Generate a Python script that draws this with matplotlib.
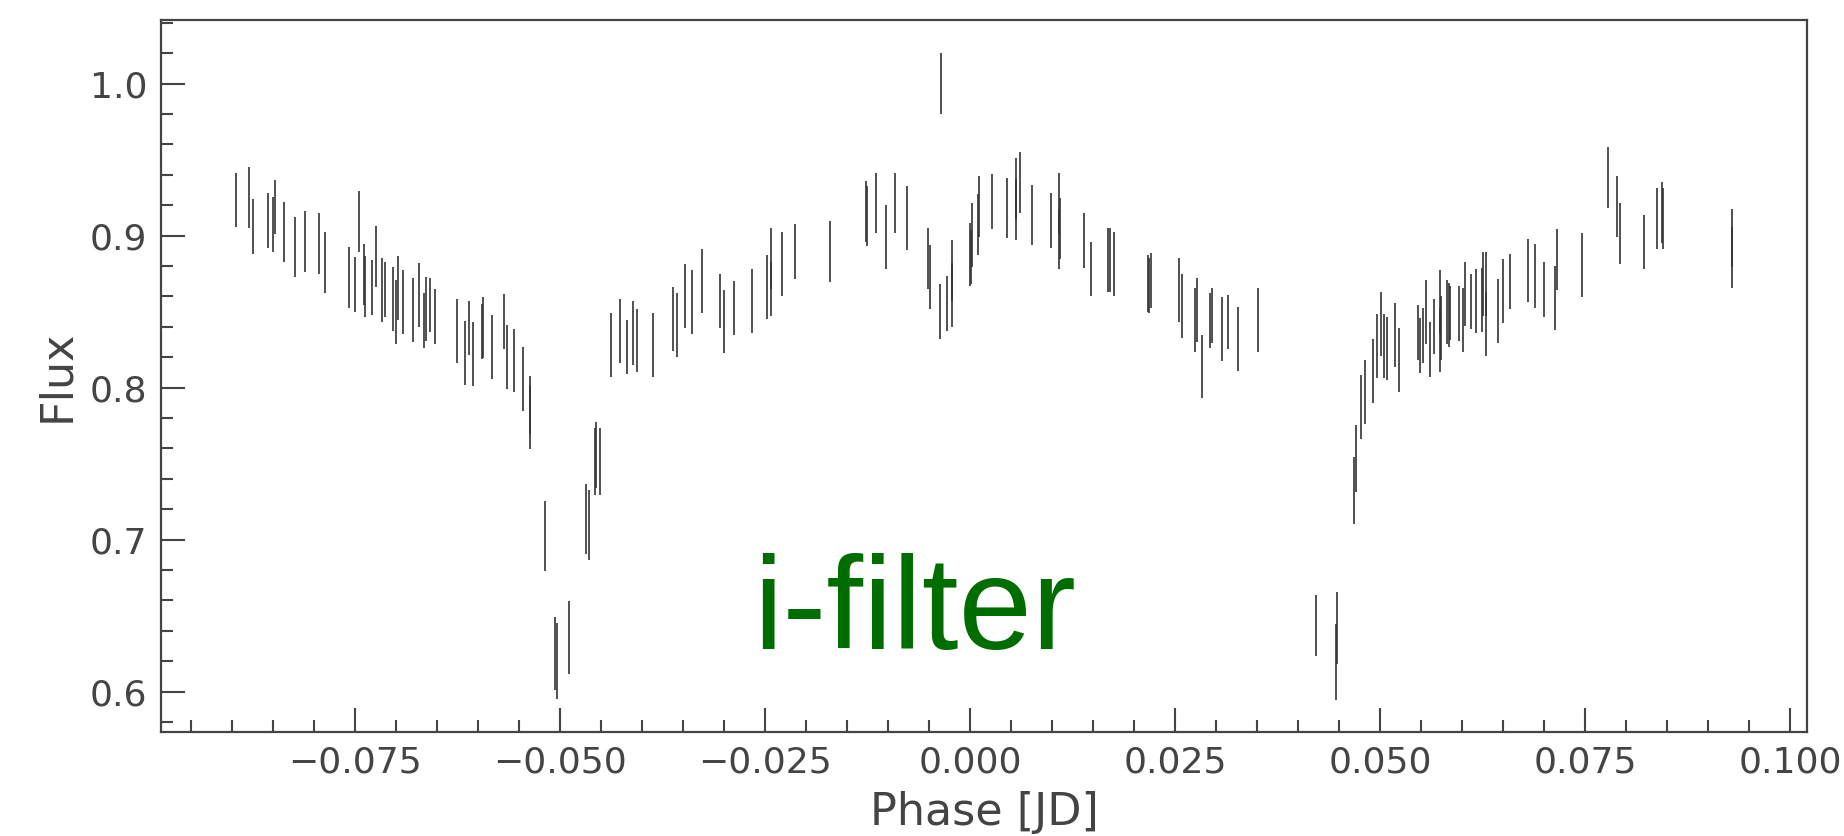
import matplotlib
matplotlib.use('Agg')
import matplotlib.pyplot as plt
from matplotlib.ticker import MultipleLocator


# Phase-folded i-filter light curve
phase = [
    -0.08954, -0.08791, -0.08746, -0.08560, -0.08502, -0.08478, -0.08365, -0.08238,
    -0.08112, -0.07945, -0.07868, -0.07572, -0.07506, -0.07454, -0.07393, -0.07377,
    -0.07291, -0.07246, -0.07177, -0.07140, -0.07035, -0.07006, -0.06982, -0.06917,
    -0.06799, -0.06726, -0.06665, -0.06637, -0.06591, -0.06530, -0.06262, -0.06157,
    -0.06112, -0.06067, -0.05957, -0.05945, -0.05832, -0.05682, -0.05649, -0.05560,
    -0.05450, -0.05372, -0.05372, -0.05189, -0.05063, -0.05035, -0.04889, -0.04685,
    -0.04645, -0.04579, -0.04567, -0.04515, -0.04380, -0.04274, -0.04189, -0.04112,
    -0.04067, -0.03865, -0.03628, -0.03576, -0.03482, -0.03389, -0.03274, -0.03048,
    -0.03006, -0.02877, -0.02665, -0.02474, -0.02433, -0.02425, -0.02291, -0.02137,
    -0.01706, -0.01274, -0.01259, -0.01149, -0.01030, -0.00921, -0.00767, -0.00518,
    -0.00494, -0.00368, -0.00360, -0.00283, -0.00218, -0.00218, -0.00006, 0.00006,
    0.00026, 0.00091, 0.00104, 0.00266, 0.00449, 0.00555, 0.00555, 0.00604,
    0.00754, 0.00982, 0.01079, 0.01079, 0.01091, 0.01384, 0.01477, 0.01677,
    0.01701, 0.01754, 0.02165, 0.02180, 0.02209, 0.02546, 0.02587, 0.02741,
    0.02762, 0.02830, 0.02924, 0.02945, 0.03071, 0.03144, 0.03262, 0.03506,
    0.04217, 0.04470, 0.04457, 0.04680, 0.04701, 0.04770, 0.04818, 0.04916,
    0.04957, 0.05013, 0.05050, 0.05083, 0.05180, 0.05229, 0.05465, 0.05489,
    0.05522, 0.05559, 0.05611, 0.05652, 0.05726, 0.05730, 0.05745, 0.05818,
    0.05834, 0.05855, 0.05957, 0.06006, 0.06034, 0.06107, 0.06165, 0.06245,
    0.06254, 0.06290, 0.06294, 0.06433, 0.06498, 0.06579, 0.06802, 0.06884,
    0.06994, 0.07132, 0.07156, 0.07461, 0.07778, 0.07891, 0.07924, 0.08221,
    0.08379, 0.08437, 0.08449, 0.09290, 0.09290,
]

flux = [
    0.9234, 0.9252, 0.9059, 0.9097, 0.9072, 0.9187, 0.9023, 0.8924,
    0.8961, 0.8949, 0.8823, 0.8722, 0.8679, 0.9093, 0.8745, 0.8666,
    0.8657, 0.8862, 0.8643, 0.8647, 0.8582, 0.8498, 0.8656, 0.8565,
    0.8510, 0.8607, 0.8441, 0.8518, 0.8543, 0.8469, 0.8370, 0.8225,
    0.8391, 0.8220, 0.8367, 0.8395, 0.8268, 0.8432, 0.8199, 0.8178,
    0.8055, 0.7885, 0.7803, 0.7022, 0.6253, 0.6204, 0.6355, 0.7132,
    0.7095, 0.7516, 0.7556, 0.7514, 0.8277, 0.8372, 0.8266, 0.8360,
    0.8309, 0.8277, 0.8451, 0.8412, 0.8603, 0.8565, 0.8699, 0.8570,
    0.8434, 0.8524, 0.8568, 0.8661, 0.8649, 0.8849, 0.8815, 0.8895,
    0.8896, 0.9156, 0.9128, 0.9214, 0.8993, 0.9214, 0.9118, 0.8849,
    0.8726, 0.8500, 1.0001, 0.8555, 0.8772, 0.8611, 0.8875, 0.8859,
    0.9005, 0.9075, 0.9193, 0.9226, 0.9181, 0.9309, 0.9173, 0.9347,
    0.9135, 0.9101, 0.9209, 0.8977, 0.9044, 0.8966, 0.8780, 0.8839,
    0.8839, 0.8814, 0.8684, 0.8671, 0.8705, 0.8644, 0.8539, 0.8446,
    0.8510, 0.8138, 0.8442, 0.8472, 0.8386, 0.8431, 0.8320, 0.8446,
    0.6432, 0.6418, 0.6193, 0.7321, 0.7534, 0.7873, 0.7968, 0.8107,
    0.8273, 0.8417, 0.8273, 0.8257, 0.8345, 0.8179, 0.8360, 0.8276,
    0.8342, 0.8499, 0.8250, 0.8403, 0.8563, 0.8312, 0.8389, 0.8499,
    0.8477, 0.8490, 0.8488, 0.8446, 0.8613, 0.8568, 0.8570, 0.8578,
    0.8683, 0.8419, 0.8683, 0.8505, 0.8635, 0.8699, 0.8770, 0.8732,
    0.8644, 0.8589, 0.8844, 0.8805, 0.9384, 0.9193, 0.9012, 0.8958,
    0.9111, 0.9151, 0.9110, 0.8982, 0.8855,
]

flux_err = [
    0.018, 0.020, 0.018, 0.018, 0.018, 0.018, 0.020, 0.020,
    0.020, 0.020, 0.020, 0.020, 0.018, 0.020, 0.020, 0.020,
    0.018, 0.020, 0.021, 0.018, 0.021, 0.021, 0.021, 0.021,
    0.021, 0.021, 0.018, 0.021, 0.018, 0.018, 0.021, 0.021,
    0.018, 0.021, 0.018, 0.020, 0.021, 0.018, 0.021, 0.021,
    0.021, 0.019, 0.021, 0.023, 0.024, 0.025, 0.024, 0.023,
    0.023, 0.022, 0.022, 0.022, 0.021, 0.021, 0.018, 0.021,
    0.021, 0.021, 0.021, 0.021, 0.021, 0.021, 0.021, 0.018,
    0.021, 0.018, 0.021, 0.021, 0.018, 0.020, 0.021, 0.018,
    0.020, 0.020, 0.020, 0.020, 0.021, 0.020, 0.021, 0.020,
    0.021, 0.018, 0.020, 0.018, 0.020, 0.021, 0.021, 0.018,
    0.021, 0.020, 0.020, 0.018, 0.020, 0.020, 0.020, 0.020,
    0.020, 0.018, 0.020, 0.020, 0.020, 0.018, 0.018, 0.021,
    0.021, 0.021, 0.019, 0.018, 0.018, 0.021, 0.021, 0.021,
    0.021, 0.021, 0.018, 0.018, 0.021, 0.018, 0.021, 0.021,
    0.020, 0.024, 0.025, 0.022, 0.022, 0.021, 0.021, 0.021,
    0.021, 0.021, 0.021, 0.021, 0.021, 0.021, 0.018, 0.018,
    0.018, 0.021, 0.018, 0.018, 0.021, 0.021, 0.021, 0.021,
    0.021, 0.018, 0.018, 0.021, 0.021, 0.018, 0.021, 0.021,
    0.021, 0.021, 0.021, 0.021, 0.021, 0.018, 0.021, 0.021,
    0.018, 0.021, 0.020, 0.021, 0.020, 0.020, 0.020, 0.018,
    0.020, 0.020, 0.020, 0.019, 0.020,
]

grey = '#444444'

fig = plt.figure(figsize=(9.22, 4.18), dpi=200)
ax = fig.add_axes([0.0874, 0.125, 0.8928, 0.8511])

ax.errorbar(phase, flux, yerr=flux_err, fmt='none', ecolor='#333333',
            elinewidth=0.6, capsize=0)

ax.text(-0.0265, 0.628, 'i-filter', color='#006d00', fontsize=47.5,
        family=['Liberation Sans', 'DejaVu Sans'], ha='left', va='baseline')

ax.set_xlim(-0.09867, 0.10211)
ax.set_ylim(0.5737, 1.0418)

ax.xaxis.set_major_locator(MultipleLocator(0.025))
ax.xaxis.set_minor_locator(MultipleLocator(0.005))
ax.yaxis.set_major_locator(MultipleLocator(0.1))
ax.yaxis.set_minor_locator(MultipleLocator(0.02))

ax.tick_params(which='both', direction='in', color=grey, labelcolor=grey,
               width=0.75, top=False, right=False)
ax.tick_params(which='major', length=8.5, labelsize=13, pad=5)
ax.tick_params(which='minor', length=4.3)

for spine in ax.spines.values():
    spine.set_color(grey)
    spine.set_linewidth(0.8)

ax.set_xlabel('Phase [JD]', fontsize=16, color=grey)
ax.set_ylabel('Flux', fontsize=16, color=grey)

fig.savefig('out.png', dpi=200)
